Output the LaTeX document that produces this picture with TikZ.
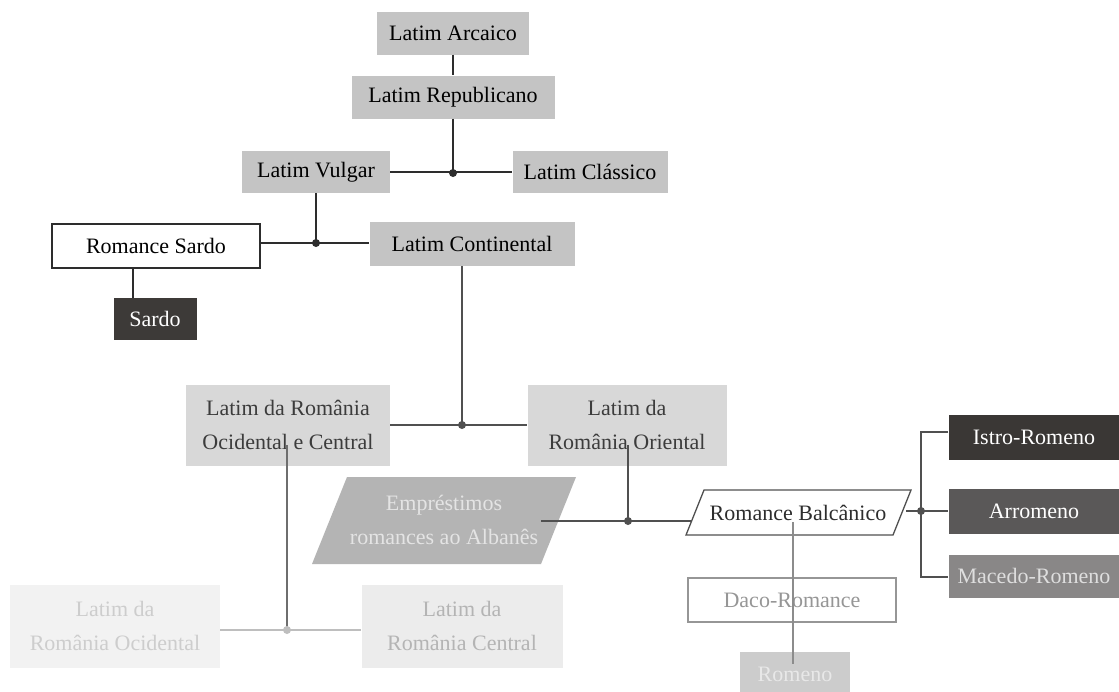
\documentclass[tikz,border=0pt]{standalone}
\usepackage{fontspec}
\setmainfont{Liberation Serif}
\begin{document}
\begin{tikzpicture}[x=1pt,y=-1pt,
  box/.style={rectangle,inner sep=0pt,align=center,font=\fontsize{22}{34}\selectfont},
  gbox/.style={box,fill=c1,text=black},
  ln/.style={line width=1.8pt,draw=l1},
  dot/.style={circle,fill=#1,inner sep=0pt,minimum size=8pt},
]
\definecolor{c1}{RGB}{196,196,196}
\definecolor{c2}{RGB}{216,216,216}
\definecolor{l1}{RGB}{45,45,45}
\definecolor{l2}{RGB}{80,80,80}
\definecolor{l3}{RGB}{110,110,110}
\definecolor{l4}{RGB}{190,190,190}
\useasboundingbox (0,0) rectangle (1119,691);
\fill[white] (0,0) rectangle (1119,691);

% nodes
\node[gbox,minimum width=152pt,minimum height=43pt] (arc) at (453,33) {Latim Arcaico};
\node[gbox,minimum width=203pt,minimum height=43pt] (rep) at (453,97) {Latim Republicano};
\node[gbox,minimum width=148pt,minimum height=42pt] (vul) at (316,172) {Latim Vulgar};
\node[gbox,minimum width=155pt,minimum height=42pt] (cla) at (590,172) {Latim Clássico};
\node[box,draw=l1,line width=1.3pt,fill=white,minimum width=208pt,minimum height=44pt] (rsa) at (156,246) {Romance Sardo};
\node[gbox,minimum width=205pt,minimum height=44pt] (con) at (472,244) {Latim Continental};
\node[box,fill={rgb,255:red,61;green,58;blue,56},text=white,minimum width=83pt,minimum height=42pt] (sar) at (155,319) {Sardo};
\node[box,fill=c2,text={rgb,255:red,60;green,60;blue,60},minimum width=204pt,minimum height=81pt] (occ) at (288,425) {Latim da România\\Ocidental e Central};
\node[box,fill=c2,text={rgb,255:red,60;green,60;blue,60},minimum width=199pt,minimum height=81pt] (ori) at (627,425) {Latim da\\România Oriental};
\node[box,fill={rgb,255:red,242;green,242;blue,242},text={rgb,255:red,205;green,205;blue,205},minimum width=210pt,minimum height=83pt] (ocd) at (115,626) {Latim da\\România Ocidental};
\node[box,fill={rgb,255:red,236;green,236;blue,236},text={rgb,255:red,180;green,180;blue,180},minimum width=201pt,minimum height=83pt] (cen) at (462,626) {Latim da\\România Central};

% parallelograms
\fill[fill={rgb,255:red,180;green,180;blue,180}] (347,477) -- (576,477) -- (541,564) -- (312,564) -- cycle;
\node[box,text={rgb,255:red,228;green,228;blue,228}] (emp) at (444,520) {Empréstimos\\romances ao Albanês};
\draw[draw=l2,line width=1.3pt,fill=white] (704,490) -- (911,490) -- (893,535) -- (686,535) -- cycle;
\node[box,text={rgb,255:red,45;green,45;blue,45}] (bal) at (798,513) {Romance Balcânico};

\node[box,fill={rgb,255:red,58;green,55;blue,53},text=white,minimum width=171pt,minimum height=45pt] (ist) at (1034,437) {Istro-Romeno};
\node[box,fill={rgb,255:red,90;green,88;blue,88},text=white,minimum width=171pt,minimum height=45pt] (arr) at (1034,511) {Arromeno};
\node[box,fill={rgb,255:red,137;green,135;blue,135},text={rgb,255:red,222;green,222;blue,222},minimum width=171pt,minimum height=43pt] (mac) at (1034,576) {Macedo-Romeno};
\node[box,draw={rgb,255:red,150;green,150;blue,150},line width=1.2pt,fill=white,text={rgb,255:red,150;green,150;blue,150},minimum width=208pt,minimum height=44pt] (dac) at (792,600) {Daco-Romance};
\node[box,fill={rgb,255:red,204;green,204;blue,204},text={rgb,255:red,232;green,232;blue,232},minimum width=110pt,minimum height=44pt] (rom) at (795,674) {Romeno};

% junctions
\coordinate (j1) at (453,173);
\coordinate (j2) at (316,243);
\coordinate (j3) at (462,425);
\coordinate (j4) at (287,630);
\coordinate (j5) at (628,521);
\coordinate (j6) at (921,511);
\coordinate (ti) at (921,432);
\coordinate (tm) at (921,577);
\coordinate (oc1) at (287,445);
\coordinate (or1) at (628,445);
\coordinate (e1) at (541,521);
\coordinate (b1) at (692,521);
\coordinate (b2) at (906,511);
\coordinate (b3) at (793,522);
\coordinate (rs1) at (133,268);
\coordinate (rs2) at (133,298);

% connectors
\draw[ln] (arc.south) -- (rep.north);
\draw[ln] (rep.south) -- (j1);
\draw[ln] (vul.east) -- (cla.west);
\draw[ln] (vul.south) -- (j2);
\draw[ln] (rsa.east |- j2) -- (con.west |- j2);
\draw[ln,line width=1.3pt] (rs1) -- (rs2);
\draw[ln,draw=l2,line width=1.5pt] (con.south -| j3) -- (j3);
\draw[ln,draw=l2,line width=1.5pt] (occ.east |- j3) -- (ori.west |- j3);
\draw[draw=l3,line width=1.3pt] (oc1) -- (j4);
\draw[draw=l4,line width=1.5pt] (ocd.east |- j4) -- (cen.west |- j4);
\draw[draw=l2,line width=1.3pt] (or1) -- (j5);
\draw[draw=l2,line width=1.5pt] (e1) -- (b1);
\draw[draw=l2,line width=1.8pt] (b2) -- (arr.west);
\draw[draw=l2,line width=1.8pt] (ist.west |- ti) -- (ti) -- (tm) -- (mac.west |- tm);
\draw[draw={rgb,255:red,140;green,140;blue,140},line width=1.2pt] (b3) -- (rom.north -| b3) -- ++(0,12);

\node[dot=l1] at (j1) {};
\node[dot=l1] at (j2) {};
\node[dot=l2] at (j3) {};
\node[dot=l4] at (j4) {};
\node[dot=l2] at (j5) {};
\node[dot=l2] at (j6) {};
\end{tikzpicture}
\end{document}
